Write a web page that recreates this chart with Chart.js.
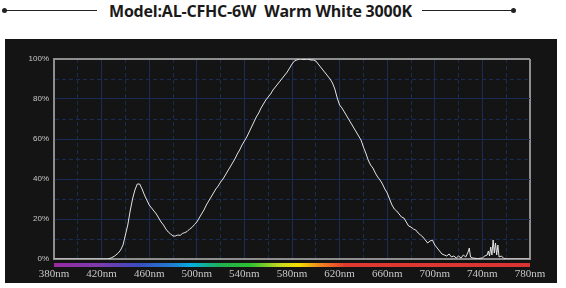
<!DOCTYPE html>
<html>
<head>
<meta charset="utf-8">
<script src="https://cdn.jsdelivr.net/npm/chart.js@4/dist/chart.umd.min.js"></script>
<style>
  html, body { margin: 0; padding: 0; background: #fff; }
  body { width: 566px; height: 288px; position: relative; overflow: hidden; }
  .title {
    position: absolute; left: 109px; top: 0; height: 24px; white-space: nowrap;
    font-family: "Open Sans", sans-serif; font-weight: 700;
    font-size: 16px; line-height: 22px; color: #1a1a1a; letter-spacing: -0.2px;
  }
  .rule { position: absolute; top: 10px; height: 1px; background: #222; }
  .dot { position: absolute; top: 8px; width: 5px; height: 5px; border-radius: 50%; background: #222; }
  .panel { position: absolute; left: 5px; top: 39px; width: 552px; height: 244px; background: #141414; }
</style>
</head>
<body>
<div class="rule" style="left:4px;width:93px"></div>
<div class="dot" style="left:2px"></div>
<div class="title">Model:AL-CFHC-6W&nbsp;&nbsp;Warm White 3000K</div>
<div class="rule" style="left:422px;width:91px"></div>
<div class="dot" style="left:511px"></div>
<div class="panel"><canvas id="spectrum" width="552" height="244"></canvas></div>
<script>
document.addEventListener('DOMContentLoaded', function () {
    // relative intensity (%), by wavelength (nm)
    const wavelengths = [
        380, 425, 428, 431, 434, 436, 438, 440, 442, 444, 446, 448, 450, 452, 454, 456, 458, 460,
        462, 464, 466, 468, 470, 472, 474, 476, 478, 480, 482, 484, 486, 488, 490, 492, 494, 496,
        498, 500, 502, 504, 506, 508, 510, 512, 514, 516, 518, 520, 522, 524, 526, 528, 530, 532,
        534, 536, 538, 540, 542, 544, 546, 548, 550, 552, 554, 556, 558, 560, 562, 564, 566, 568,
        570, 572, 574, 576, 578, 580, 582, 584, 586, 588, 590, 592, 594, 596, 598, 600, 602, 604,
        606, 608, 610, 612, 614, 616, 618, 620, 622, 624, 626, 628, 630, 632, 634, 636, 638, 640,
        642, 644, 646, 648, 650, 652, 654, 656, 658, 660, 662, 664, 666, 668, 670, 672, 674, 676,
        678, 680, 682, 684, 686, 688, 690, 692, 694, 696, 698, 700, 702, 704, 706, 708, 710, 712,
        714, 716, 718, 720, 722, 724, 726, 728, 729, 730, 732, 736, 740, 742, 744, 745, 746, 747,
        748, 749, 750, 751, 752, 753, 754, 756, 758, 760, 780
    ];
    const intensity = [
        0, 0, 0.5, 1.5, 3, 4.5, 7, 12, 17, 24, 30, 34.5, 37.5, 37.5, 35, 32, 29.5, 27,
        25.5, 24, 22.5, 20.5, 18.5, 17, 15, 13.5, 12.5, 11.5, 11.5, 12, 11.8, 12.8, 13.2, 13.8, 15, 15.8,
        17.2, 18.5, 20.5, 22.5, 24.5, 27, 29, 31, 33, 35, 36.5, 38.5, 40, 42, 44, 46, 48, 50,
        52.5, 54.5, 57, 59, 61, 63.5, 66, 68.5, 71, 73, 75.5, 77.5, 79.5, 81, 82.5, 84.5, 86, 87.5,
        89, 90.5, 92, 93.5, 95.5, 97.5, 99, 99.5, 100, 100, 99.7, 100, 99.8, 99.5, 99.5, 99, 97.5, 96,
        94.5, 93, 91.5, 90, 88, 85, 80.5, 77, 75.5, 73.5, 71.5, 69.5, 67.5, 65.5, 63.5, 61.5, 59.5, 56,
        53, 49.5, 47, 45.5, 43, 41, 39.5, 37.5, 35, 33, 30, 27, 25, 24, 22.5, 21, 20.5, 18.5,
        16.5, 16, 15, 14.5, 13, 12, 11, 9.5, 8, 9, 9.5, 7, 5.5, 4, 2.5, 2, 1.5, 2.5,
        1, 1.5, 0.5, 1.5, 0.5, 2, 1, 3.5, 5.5, 1, 0.5, 0.2, 0.5, 1.5, 2, 4, 1.5, 6,
        2, 9.5, 3, 8, 2, 7, 1, 1.5, 0.3, 0, 0
    ];
    const xTicks = [380, 420, 460, 500, 540, 580, 620, 660, 700, 740, 780];
    const yTicks = [0, 20, 40, 60, 80, 100];

    // visible spectrum colours under the axis
    const bandStops = [
        [380, '#9a2aa0'], [420, '#7a3cb0'], [450, '#3a4cc0'], [480, '#1f7fd0'],
        [495, '#05b0e0'], [520, '#20b050'], [545, '#2fc030'], [570, '#c8d820'],
        [585, '#f2e000'], [605, '#f08020'], [625, '#e03a30'], [780, '#d83434']
    ];

    const gridBlue = '#1a2b56';
    const edgeGray = '#8e8e8e';

    const spectrumBar = {
        id: 'spectrumBar',
        afterDraw: function (chart) {
            const x = chart.scales.x;
            const ctx = chart.ctx;
            const left = x.getPixelForValue(380);
            const right = x.getPixelForValue(780);
            const grad = ctx.createLinearGradient(left, 0, right, 0);
            bandStops.forEach(function (s) {
                grad.addColorStop((s[0] - 380) / 400, s[1]);
            });
            ctx.save();
            ctx.fillStyle = grad;
            ctx.fillRect(left, chart.chartArea.bottom + 4, right - left, 4);
            ctx.restore();
        }
    };

    function tickValue(ctx) {
        return ctx.tick ? ctx.tick.value : 0;
    }
    function isXEdge(v) { return v === 380 || v === 780; }
    function isYEdge(v) { return v === 0 || v === 100; }

    new Chart(document.getElementById('spectrum'), {
        type: 'line',
        data: {
            datasets: [{
                data: wavelengths.map(function (w, i) { return { x: w, y: intensity[i] }; }),
                borderColor: '#e4e4e4',
                borderWidth: 1,
                pointRadius: 0,
                tension: 0
            }]
        },
        options: {
            responsive: false,
            animation: false,
            layout: { padding: { top: 20, right: 27, left: 0, bottom: 0 } },
            plugins: { legend: { display: false }, tooltip: { enabled: false } },
            scales: {
                x: {
                    type: 'linear',
                    min: 380,
                    max: 780,
                    afterFit: function (scale) { scale.height = 24; },
                    ticks: {
                        stepSize: 20,
                        padding: 9,
                        maxRotation: 0,
                        autoSkip: false,
                        color: '#c8c8c8',
                        font: { family: 'Liberation Serif', size: 11 },
                        callback: function (v) { return xTicks.indexOf(v) >= 0 ? v + 'nm' : ''; }
                    },
                    grid: {
                        drawTicks: false,
                        color: function (ctx) { return isXEdge(tickValue(ctx)) ? edgeGray : gridBlue; },
                        lineWidth: function (ctx) { return isXEdge(tickValue(ctx)) ? 2 : 1; }
                    },
                    border: {
                        color: edgeGray,
                        width: 2,
                        dash: function (ctx) {
                            const v = tickValue(ctx);
                            return ((v - 380) % 40 === 20) ? [4, 3] : [];
                        }
                    }
                },
                y: {
                    min: 0,
                    max: 100,
                    afterFit: function (scale) { scale.width = 49; },
                    ticks: {
                        stepSize: 10,
                        padding: 5,
                        color: '#c8c8c8',
                        font: { family: 'Liberation Sans', size: 8 },
                        callback: function (v) { return yTicks.indexOf(v) >= 0 ? v + '%' : ''; }
                    },
                    grid: {
                        drawTicks: false,
                        color: function (ctx) { return isYEdge(tickValue(ctx)) ? edgeGray : gridBlue; },
                        lineWidth: function (ctx) { return isYEdge(tickValue(ctx)) ? 2 : 1; }
                    },
                    border: {
                        color: edgeGray,
                        width: 2,
                        dash: function (ctx) {
                            return (tickValue(ctx) % 20 === 10) ? [4, 3] : [];
                        }
                    }
                }
            }
        },
        plugins: [spectrumBar]
    });
});
</script>
</body>
</html>
